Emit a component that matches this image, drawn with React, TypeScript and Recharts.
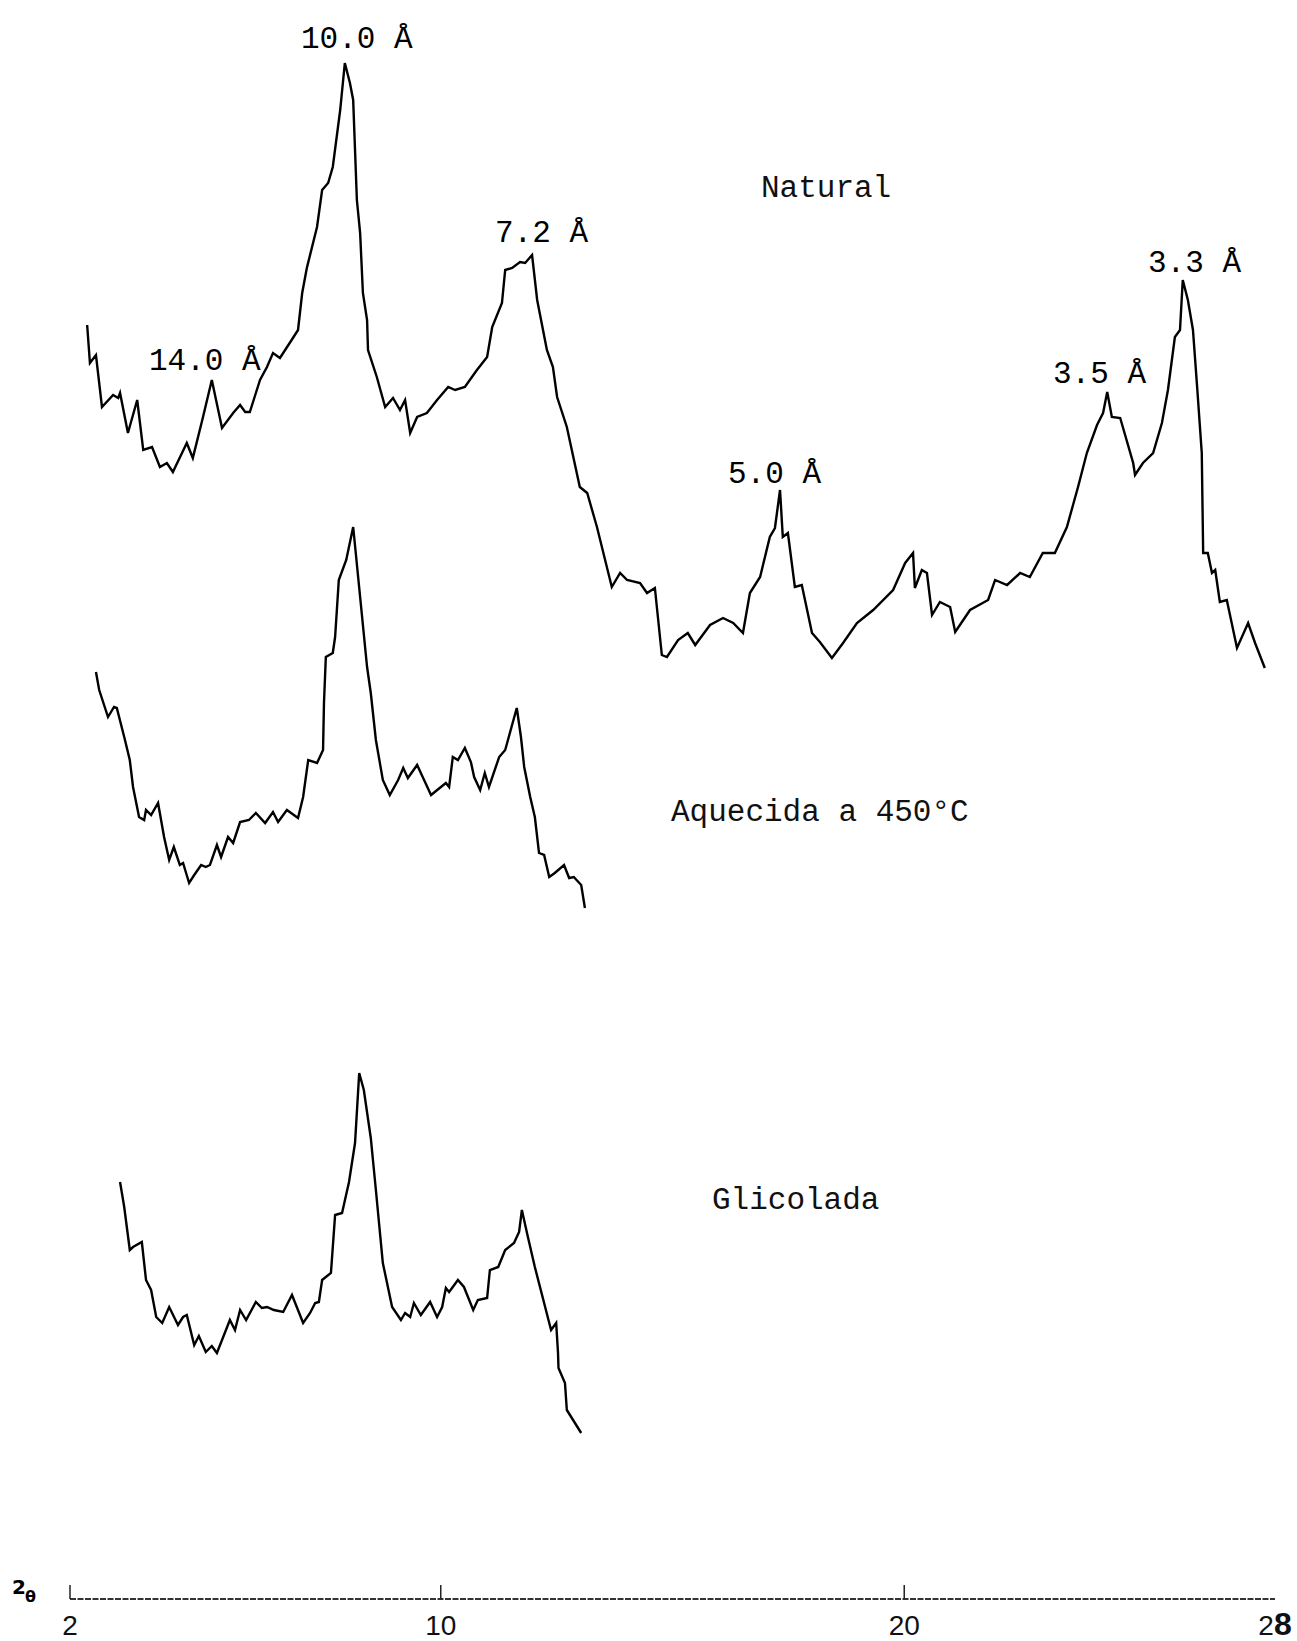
import { LineChart, Line, XAxis, YAxis } from 'recharts';

// 2θ (degrees) and relative intensity (stacked, arbitrary units)
const naturalTheta = [
  2.37, 2.43, 2.56, 2.69, 2.93, 3.04, 3.08, 3.25, 3.45, 3.58, 3.77, 3.94, 4.09, 4.22, 4.52, 4.65, 4.87, 5.06,
  5.28, 5.52, 5.67, 5.78, 5.88, 6.1, 6.25, 6.38, 6.53, 6.81, 6.92, 7.01, 7.11, 7.33, 7.44, 7.57, 7.67, 7.83,
  7.93, 8.04, 8.11, 8.19, 8.26, 8.32, 8.41, 8.43, 8.62, 8.8, 8.97, 9.12, 9.23, 9.34, 9.49, 9.7, 9.92, 10.16,
  10.31, 10.52, 10.78, 11.0, 11.11, 11.32, 11.39, 11.54, 11.71, 11.82, 11.97, 12.08, 12.29, 12.42, 12.51,
  12.72, 13.0, 13.16, 13.37, 13.69, 13.87, 14.02, 14.3, 14.45, 14.62, 14.77, 14.88, 15.12, 15.33, 15.49,
  15.81, 16.09, 16.31, 16.52, 16.67, 16.89, 17.1, 17.21, 17.32, 17.38, 17.49, 17.64, 17.79, 18.01, 18.18,
  18.44, 18.68, 18.98, 19.33, 19.76, 20.02, 20.19, 20.23, 20.38, 20.49, 20.6, 20.77, 20.99, 21.1, 21.42,
  21.81, 21.96, 22.22, 22.5, 22.71, 22.99, 23.25, 23.51, 23.75, 23.94, 24.16, 24.29, 24.38, 24.48, 24.66,
  24.94, 24.98, 25.15, 25.37, 25.56, 25.69, 25.84, 25.95, 26.01, 26.12, 26.23, 26.32, 26.42, 26.45, 26.55,
  26.64, 26.71, 26.81, 26.96, 27.18, 27.42, 27.57, 27.78,
];
const naturalCounts = [
  1274, 1236, 1244, 1192, 1204, 1201, 1206, 1166, 1199, 1149, 1152, 1132, 1136, 1127, 1156, 1141, 1182, 1219,
  1171, 1186, 1194, 1187, 1187, 1219, 1232, 1246, 1241, 1261, 1269, 1306, 1331, 1372, 1409, 1416, 1432, 1489,
  1536, 1516, 1499, 1399, 1366, 1306, 1279, 1249, 1222, 1192, 1201, 1189, 1199, 1166, 1182, 1186, 1199, 1212,
  1209, 1212, 1229, 1242, 1272, 1296, 1329, 1331, 1337, 1336, 1344, 1299, 1249, 1232, 1202,
  1172, 1112, 1106, 1072, 1012, 1026, 1019, 1016, 1006, 1011, 944, 942, 959, 966, 954,
  974, 981, 976, 966, 1006, 1022, 1062, 1071, 1109, 1062, 1066, 1012, 1014, 966, 957,
  941, 956, 976, 989, 1009, 1036, 1046, 1011, 1029, 1026, 984, 997, 992, 967, 989,
  999, 1019, 1014, 1026, 1022, 1046, 1046, 1072, 1112, 1146, 1174, 1186, 1207, 1182, 1181,
  1136, 1124, 1136, 1146, 1176, 1209, 1262, 1269, 1319, 1299, 1269, 1212, 1146, 1046, 1046,
  1026, 1029, 997, 999, 951, 976, 956, 931,
];

const heatedTheta = [
  2.56, 2.63, 2.82, 2.95, 3.01, 3.17, 3.29, 3.36, 3.49, 3.6, 3.64, 3.75, 3.9, 4.03, 4.14, 4.24, 4.37, 4.44,
  4.57, 4.68, 4.83, 4.93, 5.02, 5.17, 5.26, 5.41, 5.52, 5.67, 5.86, 6.01, 6.21, 6.38, 6.49, 6.68, 6.92, 7.03,
  7.14, 7.33, 7.46, 7.48, 7.52, 7.67, 7.72, 7.8, 7.96, 8.11, 8.26, 8.41, 8.49, 8.6, 8.75, 8.9, 9.08, 9.19,
  9.29, 9.49, 9.64, 9.79, 10.11, 10.18, 10.26, 10.37, 10.52, 10.65, 10.72, 10.85, 10.95, 11.04, 11.26, 11.39,
  11.64, 11.73, 11.8, 11.93, 12.03, 12.12, 12.23, 12.34, 12.46, 12.66, 12.77, 12.87, 13.03, 13.11,
];
const heatedCounts = [
  927, 909, 882, 892, 891, 862, 839, 812, 782, 779, 789, 784, 796, 762, 739, 752, 734, 736,
  716, 724, 734, 732, 734, 754, 742, 762, 756, 777, 779, 786, 776, 787, 777, 789, 781, 802,
  839, 836, 849, 896, 942, 946, 962, 1019, 1039, 1072, 1002, 932, 906, 859, 819, 804, 819, 831,
  821, 834, 819, 804, 816, 812, 842, 839, 851, 837, 822, 809, 826, 812, 842, 849,
  891, 862, 832, 802, 782, 746, 744, 722, 726, 734, 721, 722, 714, 691,
];

const glycolTheta = [
  3.08, 3.17, 3.29, 3.36, 3.55, 3.64, 3.75, 3.86, 3.99, 4.14, 4.33, 4.44, 4.52, 4.68, 4.78, 4.93, 5.06, 5.17,
  5.45, 5.56, 5.67, 5.8, 6.01, 6.14, 6.25, 6.4, 6.6, 6.79, 7.03, 7.18, 7.29, 7.37, 7.44, 7.63, 7.72, 7.87,
  8.02, 8.15, 8.24, 8.34, 8.49, 8.6, 8.75, 8.95, 9.14, 9.23, 9.34, 9.42, 9.57, 9.77, 9.92, 10.03, 10.11,
  10.18, 10.37, 10.5, 10.7, 10.8, 11.0, 11.06, 11.24, 11.39, 11.58, 11.69, 11.75, 11.88, 12.03, 12.38, 12.49,
  12.53, 12.54, 12.68, 12.72, 13.03,
];
const glycolCounts = [
  417, 392, 349, 352, 357, 319, 309, 282, 276, 292, 274, 282, 284, 254, 263, 247, 253, 246,
  279, 269, 289, 279, 297, 291, 292, 289, 287, 304, 276, 286, 296, 297, 319, 326, 384, 386,
  417, 456, 526, 509, 461, 409, 336, 292, 279, 286, 282, 296, 284, 297, 282, 292, 311,
  307, 319, 312, 289, 299, 301, 329, 332, 349, 356, 367, 389, 362, 332, 269, 276,
  246, 231, 216, 189, 166,
];

const axisTicks = [2, 10, 20, 28];

const peakLabels = ['10.0 Å', '14.0 Å', '7.2 Å', '5.0 Å', '3.5 Å', '3.3 Å'];
const traceNames = ['Natural', 'Aquecida a 450°C', 'Glicolada'];

const toPoints = (theta: number[], counts: number[]) => theta.map((x, i) => ({ x, y: counts[i] }));

const natural = toPoints(naturalTheta, naturalCounts);
const heated = toPoints(heatedTheta, heatedCounts);
const glycol = toPoints(glycolTheta, glycolCounts);

const mono = '"Liberation Mono", "DejaVu Sans Mono", monospace';

// label placement (px) for the overlay texts
const peakPos = [
  [301, 48],
  [149, 370],
  [495, 242],
  [728, 483],
  [1053, 383],
  [1148, 272],
];
const namePos = [
  [761, 197],
  [671, 821],
  [712, 1209],
];

const ThetaTick = (props: any) => {
  const { x, y, payload } = props;
  const v = payload.value;
  return (
    <g>
      {v !== 28 && <line x1={x} y1={y} x2={x} y2={y - 14} stroke="#222" strokeWidth={1.5} />}
      <text
        x={x}
        y={y + 36}
        textAnchor="middle"
        fontFamily='"Liberation Sans", Arial, sans-serif'
        fontSize={28}
        fill="#111"
      >
        {v === 28 ? (
          <>
            <tspan>2</tspan>
            <tspan fontWeight="bold" fontSize={32}>8</tspan>
          </>
        ) : (
          v
        )}
      </text>
    </g>
  );
};

const App = () => {
  return (
    <div style={{ position: 'absolute', left: 0, top: 0, width: 1297, height: 1641, background: '#fff' }}>
      <LineChart width={1297} height={1641} margin={{ top: 0, right: 22, bottom: 12, left: 70 }}>
        <XAxis
          type="number"
          dataKey="x"
          domain={[2, 28]}
          ticks={axisTicks}
          allowDataOverflow
          height={30}
          tickLine={false}
          tickSize={0}
          tickMargin={0}
          axisLine={{ stroke: '#333', strokeWidth: 2, strokeDasharray: '6 1.5' }}
          tick={<ThetaTick />}
          interval={0}
        />
        <YAxis hide type="number" domain={[0, 1599]} allowDataOverflow />
        <Line data={natural} dataKey="y" type="linear" stroke="#000" strokeWidth={2.4} dot={false} isAnimationActive={false} />
        <Line data={heated} dataKey="y" type="linear" stroke="#000" strokeWidth={2.4} dot={false} isAnimationActive={false} />
        <Line data={glycol} dataKey="y" type="linear" stroke="#000" strokeWidth={2.4} dot={false} isAnimationActive={false} />
      </LineChart>
      <svg
        width={1297}
        height={1641}
        style={{ position: 'absolute', left: 0, top: 0, pointerEvents: 'none' }}
      >
        {peakLabels.map((t, i) => (
          <text key={t} x={peakPos[i][0]} y={peakPos[i][1]} fontFamily={mono} fontSize={31} fill="#000">
            {t}
          </text>
        ))}
        {traceNames.map((t, i) => (
          <text key={t} x={namePos[i][0]} y={namePos[i][1]} fontFamily={mono} fontSize={31} fill="#111">
            {t}
          </text>
        ))}
        <text x={12} y={1594} fontFamily='"DejaVu Sans", sans-serif' fontWeight="bold" fontSize={20} fill="#000">
          2
        </text>
        <text x={25} y={1602} fontFamily='"DejaVu Sans", sans-serif' fontWeight="bold" fontSize={16} fill="#000">
          θ
        </text>
      </svg>
    </div>
  );
};

export default App;
